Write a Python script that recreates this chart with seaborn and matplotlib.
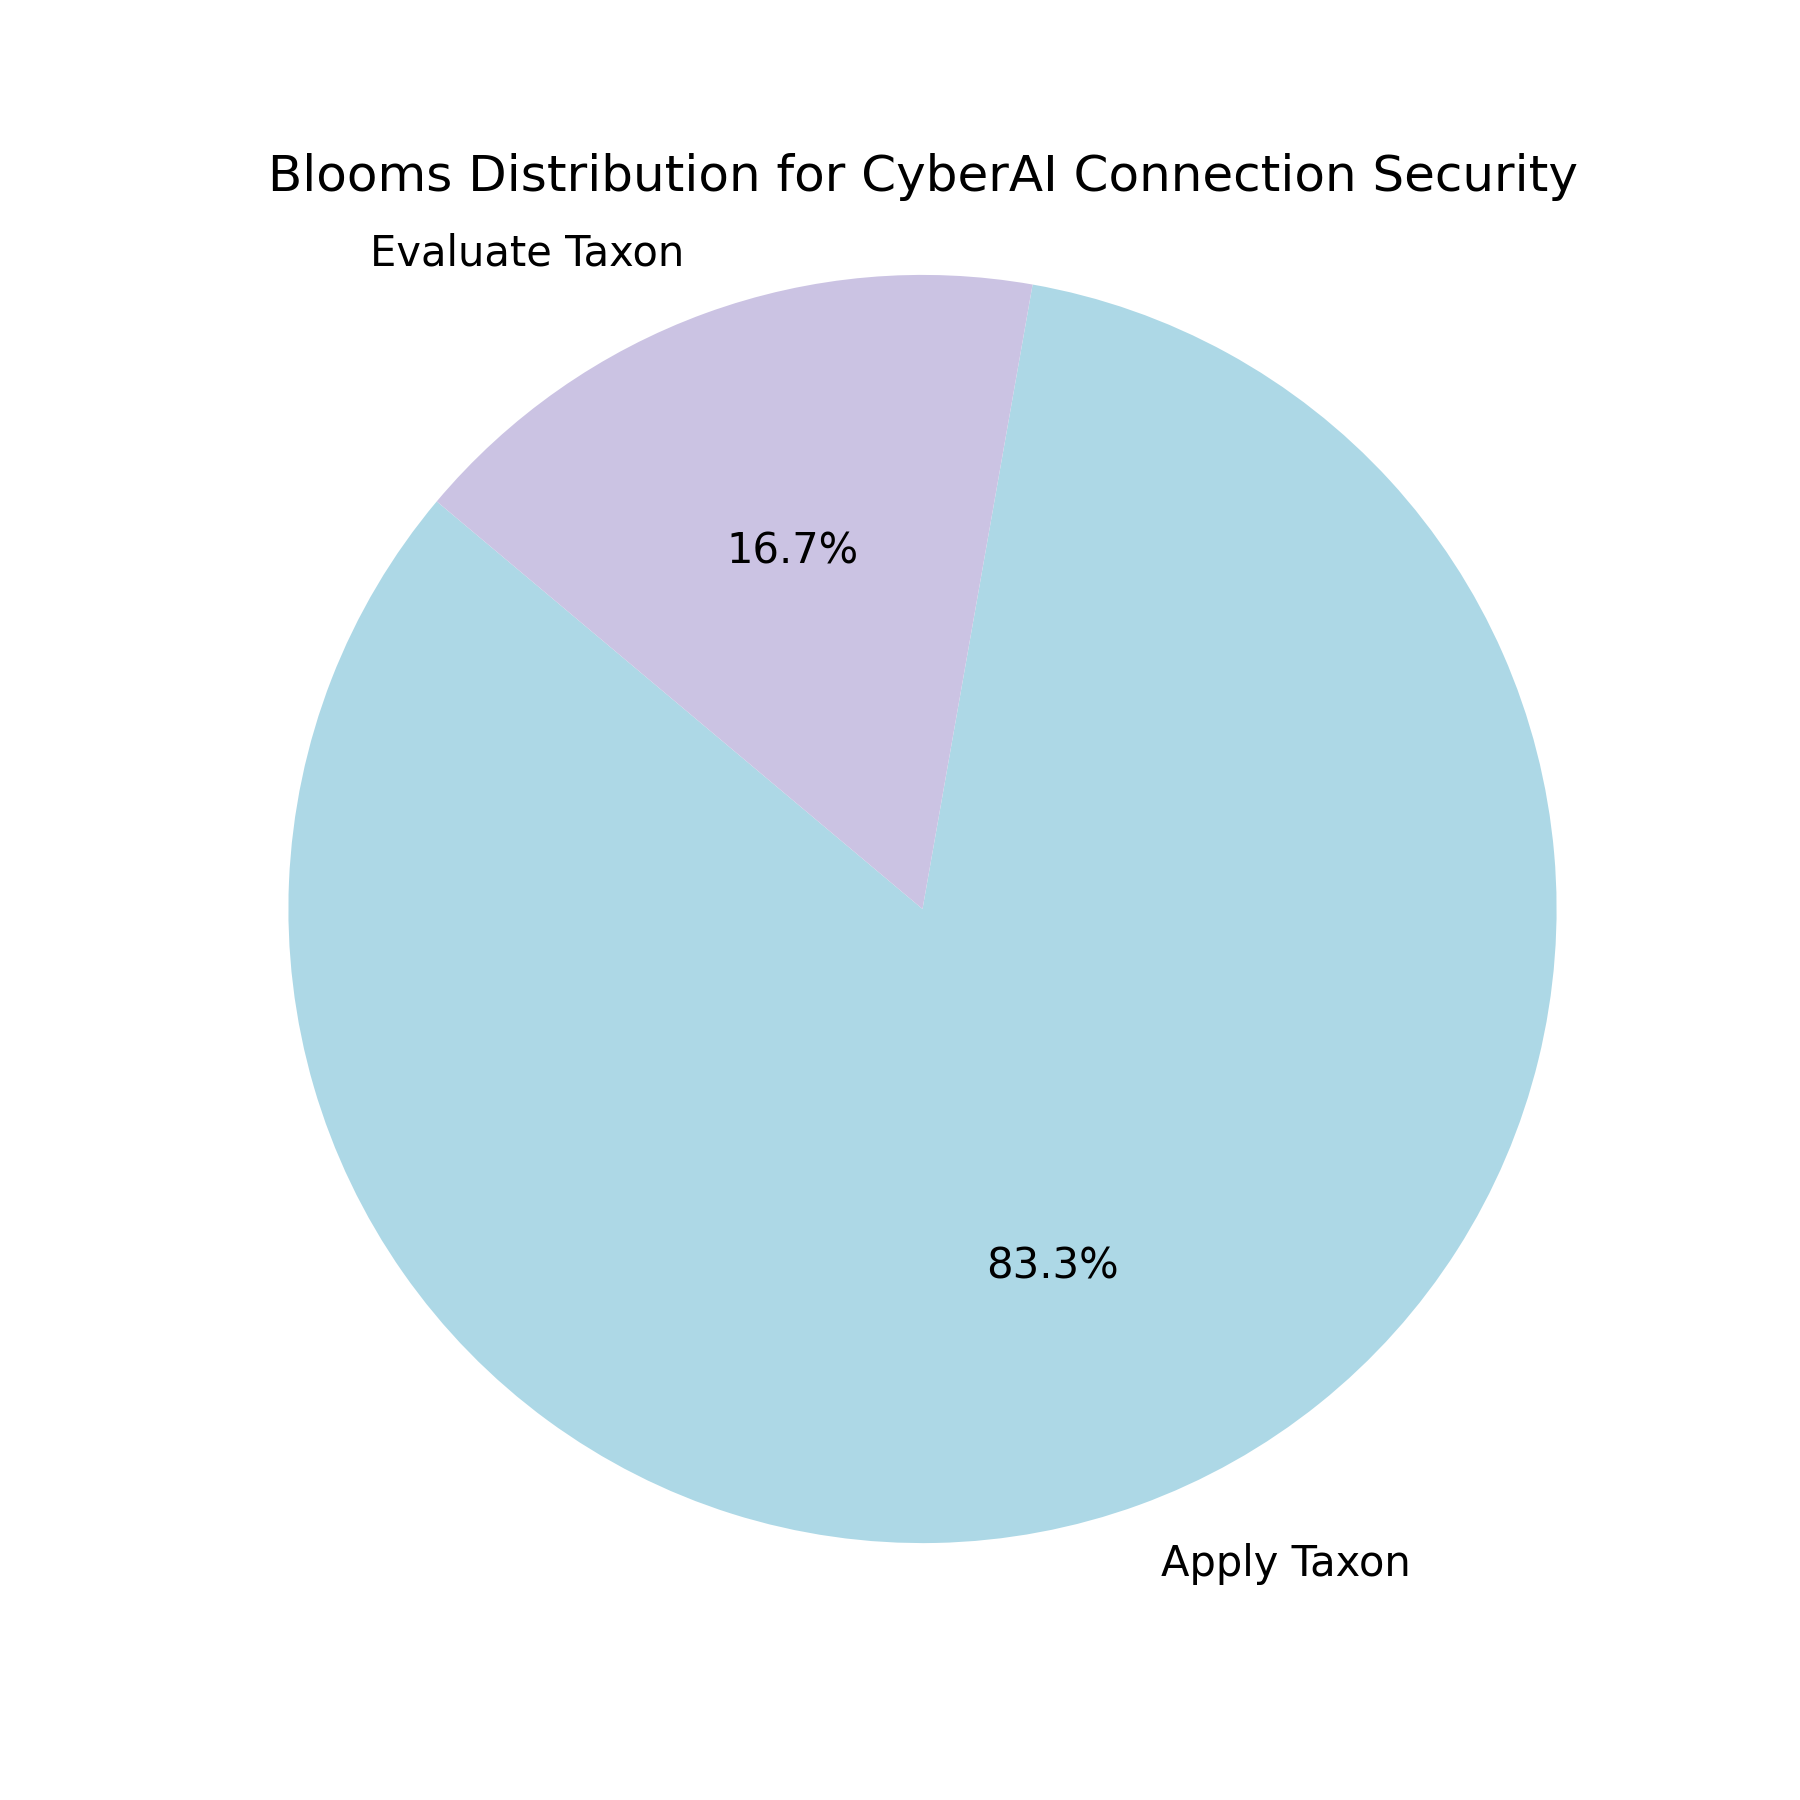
import matplotlib
matplotlib.use("Agg")
import matplotlib.pyplot as plt
import seaborn as sns

plt.rcParams['font.family'] = ['DejaVu Sans']
plt.rcParams['text.color'] = 'black'

labels = ["Apply Taxon", "Evaluate Taxon"]
values = [5, 1]
colors = ["#ADD8E6", "#CBC3E3"]

fig, ax = plt.subplots(figsize=(6, 6), dpi=300)
ax.pie(values, labels=labels, colors=colors, autopct="%1.1f%%", startangle=140,
       wedgeprops={"linewidth": 0}, textprops={"color": "black"})
ax.set_title("Blooms Distribution for CyberAI Connection Security", fontsize=12, color="black")
ax.axis("equal")
fig.savefig("out.png", dpi=300)
